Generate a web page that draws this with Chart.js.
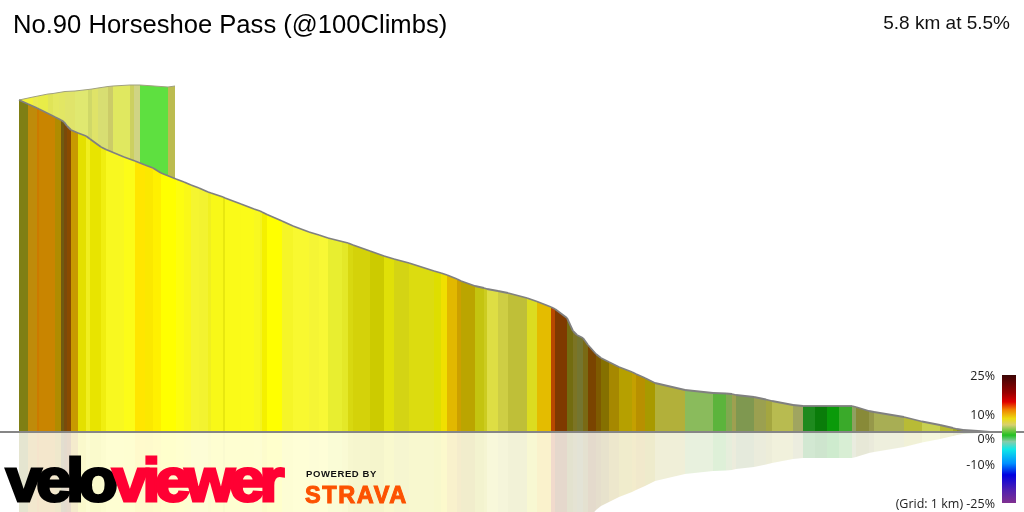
<!DOCTYPE html>
<html>
<head>
<meta charset="utf-8">
<title>No.90 Horseshoe Pass</title>
<script src="https://cdn.jsdelivr.net/npm/chart.js@4"></script>
<style>
  html, body { margin: 0; padding: 0; background: #fff; }
  #wrap { position: relative; width: 1024px; height: 512px; overflow: hidden; }
  #wrap div { position: absolute; white-space: nowrap; }
  canvas { position: absolute; left: 0; top: 0; }
  #title { left: 13px; top: 10px; font: 25.6px "Liberation Sans", sans-serif; color: #000; }
  #summary { right: 14px; top: 12px; font: 19px "Liberation Sans", sans-serif; color: #111; }
  #ramp { left: 1002px; top: 375px; width: 14px; height: 128px; }
  .rampLabel { right: 29px; font: 12.5px "Open Sans", sans-serif; color: #222; }
  #logo { left: 6px; top: 444px; font: bold 62px "Liberation Sans", sans-serif; letter-spacing: -5.2px;
          transform: scaleX(1.03); transform-origin: left top; -webkit-text-stroke: 3px currentColor; }
  #powered { left: 306px; top: 468px; font: bold 9.5px "Liberation Sans", sans-serif; letter-spacing: 0.6px; color: #111; }
  #strava { left: 305px; top: 482px; font: bold 23.5px "Liberation Sans", sans-serif; color: #fc5200;
            -webkit-text-stroke: 1px #fc5200; letter-spacing: 1.6px; }
</style>
</head>
<body>
<div id="wrap">
  <canvas id="profile" width="1024" height="512"></canvas>
  <div id="title"></div>
  <div id="summary"></div>
  <div id="ramp"></div>
  <div id="logo"><span style="color:#000">velo</span><span style="color:#ff0033">viewer</span></div>
  <div id="powered">POWERED BY</div>
  <div id="strava">STRAVA</div>
</div>
<script>
const titleText = 'No.90 Horseshoe Pass (@100Climbs)';
const summaryText = '5.8 km at 5.5%';

// Subida principal: distancia (m) e altitude (m) em cada mudanca de gradiente
const distance = [0, 54, 108, 120, 216, 252, 270, 288, 312, 354, 402, 426, 492, 522, 630, 696, 756, 804, 852, 942,
  990, 1032, 1080, 1134, 1152, 1224, 1236, 1332, 1410, 1446, 1458, 1488, 1578, 1644, 1740, 1800, 1854, 1938, 1974, 2004,
  2106, 2190, 2250, 2340, 2490, 2532, 2568, 2628, 2652, 2736, 2790, 2808, 2874, 2934, 3048, 3108, 3192, 3216, 3288, 3324,
  3348, 3384, 3414, 3462, 3492, 3540, 3600, 3678, 3702, 3756, 3816, 3996, 4164, 4242, 4278, 4302, 4410, 4482, 4518, 4644,
  4704, 4776, 4848, 4920, 4998, 5022, 5100, 5130, 5310, 5418, 5526, 5604, 5628, 5664, 5754, 5826];
const elevation = [332, 328, 324, 323, 315, 312, 310, 306, 302, 299, 296, 293, 285, 282.5, 275, 271, 267, 264, 259, 253,
  250, 247, 244, 240, 239, 235, 234, 228, 223, 221, 220, 217.5, 211, 206, 200, 197, 194, 190.5, 189, 187,
  181, 176, 173, 169, 161, 159, 157, 153, 151, 146, 144, 143, 141, 139, 134, 130.5, 125, 123, 114, 101,
  97, 94, 87, 78, 74, 70, 65, 60, 58, 54, 49, 42, 39, 38.5, 38, 37, 35, 32.5, 31, 27,
  26, 26, 26, 26, 26, 25, 21, 20, 15, 10.5, 7, 4, 3, 2, 1, 0];
const bandColours = ['#7f7f14', '#bf8b0a', '#cc7a00', '#c98500', '#b08c00', '#705a10', '#7a4a0a', '#8a4a00', '#c89a00', '#e4e000',
  '#f0ee20', '#e8e400', '#f0ee10', '#f8f820', '#fcfc18', '#ffe600', '#fbe800', '#fff000', '#ffff00', '#fdfd10',
  '#faf818', '#f5f530', '#f3f330', '#f0f020', '#f8f818', '#e8e810', '#fafa18', '#fbfb18', '#f8f820', '#f4f420',
  '#f4f000', '#ffff00', '#f5f528', '#f8f830', '#f5f535', '#f8f835', '#e8ee30', '#e4e828', '#d8d810', '#d4d20a',
  '#cccb00', '#e0e008', '#d4d414', '#dcdc10', '#dede00', '#f0e000', '#e2b800', '#cca000', '#bba500', '#c4c410',
  '#cccc20', '#dede44', '#cece44', '#bfbf38', '#dcdc20', '#e4bc00', '#b84800', '#7f3a00', '#736c10', '#7c7424',
  '#747530', '#7a6a14', '#7a4400', '#7e5a00', '#857000', '#a68800', '#b6a000', '#c4a000', '#b89000', '#a89a00',
  '#b2b03a', '#8abb5c', '#5cb43c', '#80a850', '#9ea050', '#7f9850', '#9ba050', '#a4a640', '#b8bb50', '#a0a560',
  '#1e8a1e', '#0a7c0a', '#0a9a0a', '#3aaa2a', '#8fa060', '#888a38', '#96984a', '#a8ae54', '#b8bb36', '#c8d050',
  '#b8ba30', '#a0a420', '#8c8c1c', '#5a8a3a', '#5a8a5a'];

// Faixa de tras (volta da fita no inicio da subida)
const backDistance = [0, 84, 114, 174, 204, 240, 276, 336, 414, 438, 474, 534, 564, 666, 690, 726, 894, 936];
const backElevation = [332, 335, 336, 338, 338.5, 339.5, 340.5, 341, 342.5, 343, 344, 345.5, 346, 347, 347, 347, 345, 346];
const backColours = ['#f2f23a', '#eaea50', '#e8ec48', '#e0e458', '#e4e860', '#e2e664', '#e0e46a', '#e0e870', '#d0d868', '#dfe368',
  '#d8de72', '#cccc68', '#e0e860', '#ccd060', '#d0d484', '#5ee040', '#bcbc50'];

// Escala de cores do gradiente
const rampLabels = ['25%', '10%', '0%', '-10%', '(Grid: 1 km) -25%'];
const rampLabelTops = [367, 406, 430, 456, 495];
const rampStops = ['#3a0505 0%', '#990000 14%', '#e00000 21%', '#f08000 27%', '#ecdc10 34%', '#d8d070 39%', '#22c022 47%',
  '#88ccaa 52%', '#10e8e8 58%', '#0090ff 69%', '#0000e0 78%', '#5020b0 90%', '#803090 100%'];

const REFLECTION_ALPHA = '33';

function toPoints(xs, ys) {
  return xs.map((x, i) => ({ x: x, y: ys[i] }));
}

function initializeText() {
  document.getElementById('title').textContent = titleText;
  document.getElementById('summary').textContent = summaryText;
  const ramp = document.getElementById('ramp');
  ramp.style.background = `linear-gradient(to bottom, ${rampStops.join(', ')})`;
  rampLabels.forEach((label, i) => {
    const el = document.createElement('div');
    el.className = 'rampLabel';
    el.style.top = rampLabelTops[i] + 'px';
    el.textContent = label;
    document.getElementById('wrap').appendChild(el);
  });
}

function drawProfile() {
  new Chart(document.getElementById('profile'), {
    type: 'line',
    data: {
      datasets: [
        {
          label: 'Baseline',
          data: toPoints([-114, 6030], [0, 0]),
          borderColor: '#868686',
          borderWidth: 1.8,
          fill: false,
          order: 0
        },
        {
          label: 'Climb',
          data: toPoints(distance, elevation),
          borderColor: '#808080',
          borderWidth: 1.8,
          backgroundColor: bandColours[0],
          fill: 'origin',
          segment: { backgroundColor: ctx => bandColours[ctx.p0DataIndex] },
          order: 1
        },
        {
          label: 'Back',
          data: toPoints(backDistance, backElevation),
          borderColor: '#a0a080',
          borderWidth: 1,
          backgroundColor: backColours[0],
          fill: 'origin',
          segment: { backgroundColor: ctx => backColours[ctx.p0DataIndex] },
          order: 2
        },
        {
          label: 'Reflection',
          data: toPoints(distance, elevation.map(v => -v)),
          borderWidth: 0,
          borderColor: 'transparent',
          backgroundColor: bandColours[0] + REFLECTION_ALPHA,
          fill: 'origin',
          segment: { backgroundColor: ctx => bandColours[ctx.p0DataIndex] + REFLECTION_ALPHA },
          order: 3
        }
      ]
    },
    options: {
      responsive: false,
      animation: false,
      devicePixelRatio: 1,
      layout: { padding: 0 },
      elements: { point: { radius: 0 }, line: { tension: 0 } },
      plugins: { legend: { display: false }, tooltip: { enabled: false }, title: { display: false } },
      scales: {
        x: { type: 'linear', display: false, min: -114, max: 6030 },
        y: { type: 'linear', display: false, min: -80, max: 432 }
      }
    }
  });
}

initializeText();
drawProfile();
</script>
</body>
</html>
